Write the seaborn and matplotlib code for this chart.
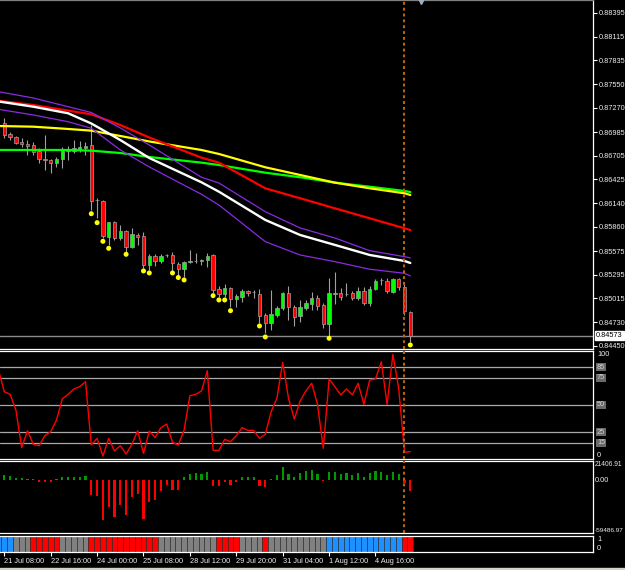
import numpy as np
import matplotlib
matplotlib.use('Agg')
import matplotlib.pyplot as plt
import matplotlib.transforms as mtransforms
from matplotlib.patches import Rectangle
import seaborn as sns

# ---- H4 candles, bar 0 = 21 Jul 08:00 ----
opens = [0.87092, 0.86962, 0.86926, 0.86867, 0.86843, 0.86831, 0.86760, 0.86665, 0.86654, 0.86618,
         0.86665, 0.86760, 0.86760, 0.86784, 0.86796, 0.86831, 0.86180, 0.86168, 0.85741, 0.85919,
         0.85729, 0.85812, 0.85623, 0.85765, 0.85753, 0.85410, 0.85516, 0.85457, 0.85528, 0.85528,
         0.85421, 0.85362, 0.85445, 0.85457, 0.85457, 0.85469, 0.85528, 0.85125, 0.85066, 0.85137,
         0.85007, 0.85030, 0.85102, 0.85090, 0.85066, 0.84817, 0.84722, 0.84817, 0.84900, 0.85078,
         0.84912, 0.84805, 0.84900, 0.84948, 0.85019, 0.84936, 0.84711, 0.85066, 0.85078, 0.85060,
         0.85078, 0.85019, 0.85102, 0.84959, 0.85125, 0.85232, 0.85220, 0.85090, 0.85244, 0.85149,
         0.84853]
highs = [0.87151, 0.86985, 0.86938, 0.86914, 0.86890, 0.86867, 0.86796, 0.86950, 0.86665, 0.86689,
         0.86808, 0.86819, 0.86890, 0.86879, 0.86867, 0.87068, 0.86203, 0.86180, 0.85919, 0.85931,
         0.85883, 0.85824, 0.85848, 0.85789, 0.85801, 0.85540, 0.85540, 0.85540, 0.85540, 0.85564,
         0.85445, 0.85457, 0.85587, 0.85552, 0.85481, 0.85552, 0.85540, 0.85161, 0.85184, 0.85149,
         0.85066, 0.85125, 0.85113, 0.85113, 0.85125, 0.84841, 0.85113, 0.84924, 0.85090, 0.85161,
         0.84936, 0.84995, 0.84995, 0.85090, 0.85054, 0.84959, 0.85256, 0.85327, 0.85137, 0.85196,
         0.85102, 0.85149, 0.85149, 0.85161, 0.85244, 0.85256, 0.85256, 0.85256, 0.85256, 0.85184,
         0.84865]
lows = [0.86914, 0.86890, 0.86843, 0.86808, 0.86713, 0.86713, 0.86618, 0.86535, 0.86500, 0.86571,
        0.86559, 0.86654, 0.86736, 0.86748, 0.86713, 0.86061, 0.85966, 0.85729, 0.85647, 0.85706,
        0.85706, 0.85564, 0.85611, 0.85647, 0.85374, 0.85350, 0.85398, 0.85433, 0.85504, 0.85339,
        0.85291, 0.85267, 0.85433, 0.85433, 0.85410, 0.85386, 0.85078, 0.85030, 0.85030, 0.84912,
        0.84912, 0.84971, 0.85042, 0.85019, 0.84722, 0.84604, 0.84640, 0.84794, 0.84876, 0.84758,
        0.84687, 0.84734, 0.84876, 0.84876, 0.84876, 0.84663, 0.84557, 0.84948, 0.84995, 0.85042,
        0.84995, 0.84995, 0.84936, 0.84924, 0.85113, 0.85173, 0.85078, 0.85078, 0.85113, 0.84817,
        0.84497]
closes = [0.86950, 0.86926, 0.86855, 0.86843, 0.86819, 0.86748, 0.86665, 0.86659, 0.86618, 0.86665,
          0.86772, 0.86766, 0.86796, 0.86808, 0.86819, 0.86168, 0.86174, 0.85753, 0.85913, 0.85729,
          0.85812, 0.85623, 0.85777, 0.85741, 0.85410, 0.85516, 0.85457, 0.85516, 0.85525, 0.85433,
          0.85362, 0.85445, 0.85449, 0.85453, 0.85460, 0.85516, 0.85113, 0.85066, 0.85137, 0.85007,
          0.85042, 0.85102, 0.85078, 0.85086, 0.84805, 0.84722, 0.84829, 0.84900, 0.85078, 0.84912,
          0.84794, 0.84912, 0.84959, 0.85019, 0.84924, 0.84711, 0.85078, 0.85070, 0.85030, 0.85070,
          0.85019, 0.85102, 0.84959, 0.85125, 0.85220, 0.85228, 0.85102, 0.85244, 0.85149, 0.84865,
          0.84573]

# moving averages / envelope read at some bar indices
ma_idx = [-1, 5, 11, 15, 20, 25, 34, 37, 45, 51, 57, 63, 69, 70]
ma_white = [0.87347, 0.87285, 0.87207, 0.87086, 0.86890, 0.86677, 0.86389, 0.86278, 0.85943, 0.85765, 0.85647, 0.85528, 0.85457, 0.85433]
ma_red = [0.87356, 0.87305, 0.87238, 0.87195, 0.87068, 0.86920, 0.86681, 0.86622, 0.86318, 0.86200, 0.86081, 0.85963, 0.85844, 0.85824]
ma_yellow = [0.87056, 0.87048, 0.87021, 0.87001, 0.86938, 0.86873, 0.86772, 0.86725, 0.86567, 0.86476, 0.86385, 0.86318, 0.86259, 0.86239]
ma_green = [0.86772, 0.86772, 0.86772, 0.86764, 0.86736, 0.86689, 0.86622, 0.86594, 0.86503, 0.86449, 0.86385, 0.86337, 0.86286, 0.86274]
band_up = [0.87463, 0.87388, 0.87285, 0.87216, 0.87033, 0.86831, 0.86449, 0.86381, 0.86041, 0.85848, 0.85729, 0.85579, 0.85508, 0.85493]
band_lo = [0.87254, 0.87187, 0.87107, 0.87029, 0.86772, 0.86571, 0.86247, 0.86120, 0.85686, 0.85528, 0.85449, 0.85359, 0.85311, 0.85279]

# yellow dots under candles
dot_idx = [15, 16, 17, 18, 21, 24, 25, 29, 30, 31, 36, 37, 38, 39, 44, 45, 56, 70]
dot_price = [0.86017, 0.85911, 0.85690, 0.85607, 0.85536, 0.85339, 0.85315, 0.85315, 0.85261, 0.85232,
             0.85046, 0.84995, 0.84995, 0.84868, 0.84687, 0.84557, 0.84541, 0.84462]

last_price = 0.84573
price_ticks = [0.88395, 0.88115, 0.87835, 0.87550, 0.87270, 0.86985, 0.86705, 0.86425,
               0.86140, 0.85860, 0.85575, 0.85295, 0.85015, 0.84730, 0.84450]
price_labels = ['%.5f' % p for p in price_ticks]

# oscillator, bar -1 .. 70
osc = [82.4, 62.3, 59.9, 45.4, 10.5, 26.2, 13.6, 12.3, 21.6, 25.3, 36.1, 55.6, 59.9, 64.8, 67.0, 71.6,
       13.0, 19.1, 2.8, 19.1, 7.4, 12.3, 4.6, 13.6, 26.2, 5.2, 25.9, 19.8, 29.0, 32.4, 15.4, 13.0,
       26.8, 58.6, 59.9, 63.0, 81.8, 8.0, 8.0, 18.2, 16.0, 21.6, 29.0, 26.5, 26.5, 19.1, 22.8, 43.8,
       56.2, 89.5, 56.2, 37.0, 53.7, 63.0, 70.1, 50.6, 9.9, 74.1, 67.0, 59.3, 64.8, 59.3, 70.1, 50.6,
       73.1, 74.1, 90.1, 50.6, 96.9, 65.4, 6.2, 6.8]
osc_levels = [85, 75, 50, 25, 15]

# histogram
hist = [5695, 4936, 2278, 2278, 1139, 1139, -1898, -1898, -1898, 1519, 3038, 3417, 3797, 3797, 4936,
        -17086, -17845, -44425, -30375, -41008, -28477, -38729, -19365, -15947, -43286, -25060, -22781,
        -12150, -5695, -10631, -10631, 3038, 6834, 7973, 6834, 8733, -6834, -6834, -2278, -5695, -2278,
        3038, 3038, 3417, -6455, -8353, 1519, 5695, 14808, 6834, 3038, 7973, 10252, 11391, 6834, -1519,
        9492, 8733, 6834, 7594, 6075, 7973, 3797, 7973, 9872, 9492, 5695, 8733, 6834, -3797, -12530]
hist_max, hist_min = 21406.91, -59486.97

# state strip, bar -1 .. 70  (B blue, G grey, R red)
strip = 'BBBGGGRRRRRGGGGGRRRRRRRRRRRRGGGGGGGGGGRRRRGGGGRGGGGGGGGGGBBBBBBBBBBBBBRR'

time_labels = ['21 Jul 08:00', '22 Jul 16:00', '24 Jul 00:00', '25 Jul 08:00', '28 Jul 12:00',
               '29 Jul 20:00', '31 Jul 04:00', '1 Aug 12:00', '4 Aug 16:00']

sns.set_theme(style='dark', rc={'axes.facecolor': 'black', 'figure.facecolor': 'black', 'axes.grid': False})
plt.rcParams['font.family'] = ['Liberation Sans', 'DejaVu Sans']
FS = 5.3
TXT = '#ececec'

W, H = 625, 570
fig = plt.figure(figsize=(W / 100, H / 100), dpi=100, facecolor='black')


def panel(top, bottom):
    return fig.add_axes([0, 1 - bottom / H, 593 / W, (bottom - top) / H])


ax = panel(0, 349)
ax_osc = panel(351, 459)
ax_h = panel(461, 533)
ax_s = panel(536, 552)

xlim = (-0.741, 101.5)
for a in (ax, ax_osc, ax_h, ax_s):
    a.set_facecolor('black')
    a.set_xlim(*xlim)
    a.set_xticks([])
    a.set_yticks([])
    a.spines['left'].set_visible(False)
    for s in ('right', 'top', 'bottom'):
        a.spines[s].set_color('white')
        a.spines[s].set_linewidth(0.9)
ax.spines['top'].set_color('#808080')

# ---- main price panel ----
o, h, l, c = map(np.array, (opens, highs, lows, closes))
x = np.arange(len(o))
up = c >= o
ax.axhline(last_price, color='#8c8c8c', lw=1, zorder=1)
ax.vlines(x, l, h, color='#a0a0a0', lw=0.8, zorder=2)
ax.bar(x, np.maximum(np.abs(c - o), 0.00007), bottom=np.minimum(o, c), width=0.6,
       color=np.where(up, '#00ff00', '#ff0000'), edgecolor='#a0a0a0', linewidth=0.5, zorder=3)

for vals, col, lw in [(ma_green, '#00ff00', 1.6), (ma_yellow, '#ffff00', 1.6), (ma_red, '#ff0000', 1.6),
                      (band_up, '#8a2be2', 0.9), (band_lo, '#8a2be2', 0.9), (ma_white, '#ffffff', 1.7)]:
    sns.lineplot(x=ma_idx, y=vals, ax=ax, color=col, lw=lw, estimator=None, sort=False, zorder=4)

sns.scatterplot(x=dot_idx, y=dot_price, ax=ax, color='#ffff00', s=13, edgecolor='none', zorder=5)

ax.set_ylim(0.84414, 0.88549)
ax.yaxis.tick_right()
ax.set_yticks(price_ticks)
ax.set_yticklabels(price_labels)
ax.tick_params(axis='y', right=True, length=3, width=0.8, color='white', pad=1,
               labelsize=FS, labelcolor=TXT)
ax.set_ylabel('')

tr = mtransforms.blended_transform_factory(ax.transAxes, ax.transData)
ax.text(1, last_price, '%.5f' % last_price, transform=mtransforms.offset_copy(tr, fig=fig, x=3, y=0, units='dots'),
        fontsize=FS, color='black', va='center', ha='left', clip_on=False,
        bbox=dict(boxstyle='square,pad=0.12', fc='white', ec='white'))

# chart shift marker
ax.plot([71.8], [0.88535], marker='v', ms=5, color='#9fb0c0', clip_on=False, zorder=6)

# ---- oscillator ----
sns.lineplot(x=np.arange(-1, 71), y=osc, ax=ax_osc, color='#ff0000', lw=1, estimator=None, sort=False, zorder=3)
for lv in osc_levels:
    ax_osc.axhline(lv, color='#a8a8a8', lw=0.9, zorder=1)
ax_osc.set_ylim(0, 100)
ax_osc.set_ylabel('')
to = mtransforms.offset_copy(mtransforms.blended_transform_factory(ax_osc.transAxes, ax_osc.transData),
                             fig=fig, x=4, y=0, units='dots')
ax_osc.text(1, 100, '100', transform=to, fontsize=FS, color=TXT, va='top', ha='left', clip_on=False)
ax_osc.text(1, 0, '0', transform=to, fontsize=FS, color=TXT, va='bottom', ha='left', clip_on=False)
for lv in osc_levels:
    ax_osc.text(1, lv, str(lv), transform=to, fontsize=FS, color='#d0d0d0', va='center', ha='left',
                clip_on=False, bbox=dict(boxstyle='square,pad=0.1', fc='#6a6a6a', ec='none'))

# ---- histogram ----
hv = np.array(hist)
ax_h.bar(x, hv, width=0.4, color=np.where(hv >= 0, '#009a00', '#ff0000'), edgecolor='none', linewidth=0, zorder=3)
ax_h.set_ylim(hist_min, hist_max)
th = mtransforms.offset_copy(mtransforms.blended_transform_factory(ax_h.transAxes, ax_h.transData),
                             fig=fig, x=2, y=0, units='dots')
ax_h.text(1, hist_max, '%.2f' % hist_max, transform=th, fontsize=4.8, color=TXT, va='top', ha='left', clip_on=False)
ax_h.text(1, 0, '0.00', transform=th, fontsize=FS, color=TXT, va='center', ha='left', clip_on=False)
ax_h.text(1, hist_min, '%.2f' % hist_min, transform=th, fontsize=4.6, color=TXT, va='bottom', ha='left', clip_on=False)

for a in (ax, ax_osc, ax_h):
    a.axvline(69, color='#b8620e', lw=1.5, ls=(0, (1.4, 1.4)), zorder=6)

# ---- state strip ----
cmap = {'B': '#1e90ff', 'G': '#808080', 'R': '#ff0000'}
ax_s.bar(np.arange(-1, 71), 1, width=1, color=[cmap[k] for k in strip], edgecolor='#303030', linewidth=0.4)
ax_s.set_ylim(0, 1)
ax_s.set_xticks(range(0, 72, 8))
ax_s.set_xticklabels(time_labels, ha='left')
ax_s.tick_params(axis='x', bottom=True, length=3, width=0.8, color='white', pad=1.5, labelsize=FS, labelcolor=TXT)
ts = mtransforms.offset_copy(ax_s.transAxes, fig=fig, x=4, y=0, units='dots')
ax_s.text(1, 1, '1', transform=ts, fontsize=FS, color=TXT, va='top', ha='left', clip_on=False)
ax_s.text(1, 0, '0', transform=ts, fontsize=FS, color=TXT, va='bottom', ha='left', clip_on=False)

fig.patches.append(Rectangle((0, 0), 1, 2.5 / H, transform=fig.transFigure, color='#d4d0c8', zorder=0))

fig.savefig('out.png', dpi=100, facecolor='black')
